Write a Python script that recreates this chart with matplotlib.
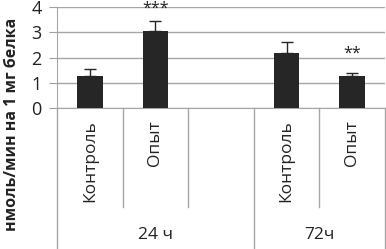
import numpy as np
import matplotlib.pyplot as plt
import matplotlib.transforms as mtransforms

# данные
categories = ["Контроль", "Опыт", "", "Контроль", "Опыт"]
groups = ["24 ч", "72ч"]
values = [1.26, 3.06, np.nan, 2.19, 1.26]
errors = [0.28, 0.37, np.nan, 0.41, 0.14]
stars = ["", "***", "", "", "**"]
star_y = [0, 3.95, 0, 0, 2.17]

plt.rcParams['font.family'] = ['Open Sans', 'DejaVu Sans']

fig = plt.figure(figsize=(3.86, 2.49), dpi=100)
ax = fig.add_axes([57 / 386, 1 - 108 / 249, 328 / 386, 101 / 249])

x = np.arange(len(categories))
ax.bar(x, values, width=0.39, color="#262626", zorder=3)
ax.errorbar(x, values, yerr=[np.zeros(len(x)), errors], fmt="none",
            ecolor="#262626", elinewidth=1, capsize=4, capthick=1, zorder=4)

for xi, s, sy in zip(x, stars, star_y):
    if s:
        ax.text(xi, sy, s, ha="center", va="center", fontsize=11.5,
                color="#222222", clip_on=False)

ax.set_xlim(-0.5, 4.5)
ax.set_ylim(0, 4)
ax.set_yticks([0, 1, 2, 3, 4])
ax.tick_params(axis="y", length=6, color="#a0a0a0", labelsize=13, pad=5,
               labelcolor="#222222")
ax.set_xticks([])
ax.grid(axis="y", color="#a6a6a6", linewidth=1, zorder=0)
for side in ["top", "right"]:
    ax.spines[side].set_visible(False)
ax.spines["left"].set_color("#a6a6a6")
ax.spines["bottom"].set_color("#a6a6a6")

# многоуровневая ось категорий
trans = mtransforms.blended_transform_factory(ax.transData, fig.transFigure)
y0 = 1 - 108 / 249
for xd in [0.5, 1.5, 3.5]:
    ax.plot([xd, xd], [y0, 1 - 207 / 249], transform=trans, color="#a6a6a6",
            lw=1, clip_on=False)
for xd in [-0.5, 2.5, 4.5]:
    ax.plot([xd, xd], [y0, 0], transform=trans, color="#a6a6a6",
            lw=1, clip_on=False)

for xi, c in zip(x, categories):
    if c:
        ax.text(xi, 1 - 120 / 249, c, rotation=90, ha="center", va="top",
                fontsize=12.5, transform=trans, color="#222222")

ax.text(1.0, 1 - 235 / 249, groups[0], ha="center", va="center",
        fontsize=12.5, transform=trans, color="#222222")
ax.text(3.5, 1 - 235 / 249, groups[1], ha="center", va="center",
        fontsize=12.5, transform=trans, color="#222222")

fig.text(0.032, 0.5, "нмоль/мин на 1 мг белка", rotation=90, ha="center",
         va="center", fontsize=11.5, fontweight="bold", color="#222222")

fig.savefig("out.png", dpi=100)
